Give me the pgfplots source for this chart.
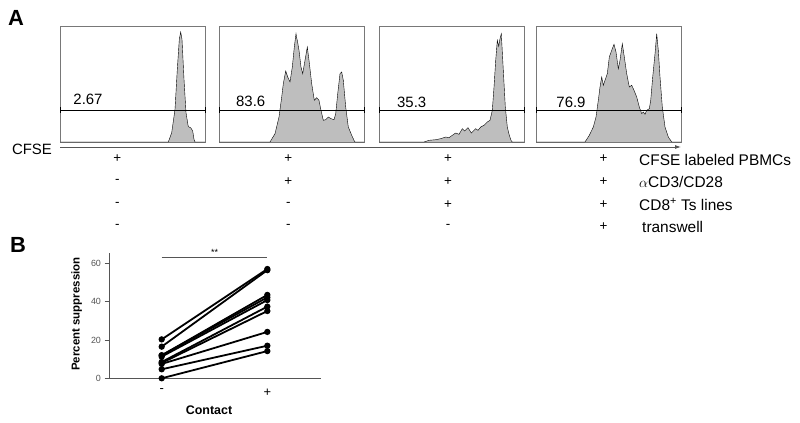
\documentclass[border=0pt]{standalone}
\usepackage{pgfplots}
\pgfplotsset{compat=1.18}
\usetikzlibrary{arrows.meta}
\usepackage{fontspec}
\setmainfont{Liberation Sans}
\definecolor{histfill}{RGB}{190,190,190}
\definecolor{boxgray}{RGB}{120,120,120}
\definecolor{axgray}{RGB}{85,85,85}
\tikzset{pct/.style={font=\fontsize{15}{16}\selectfont}}
\begin{document}
\begin{tikzpicture}[x=1bp,y=1bp]
\useasboundingbox (0,0) rectangle (800,422);
\pgfplotsset{hist/.style={anchor=south west, width=145bp, height=116bp, scale only axis,
  xmin=0, xmax=145, ymin=0, ymax=116, ticks=none,
  axis line style={boxgray, line width=0.7pt}, clip=false},
  gate/.style={black, line width=0.8pt, mark=|, mark size=3bp, mark options={line width=0.6pt}},
  histplot/.style={fill=histfill, draw=black, line width=0.4pt},
  pair/.style={black, line width=1.8bp, mark=*, mark size=2.2bp}}
% Histogram 1
\begin{axis}[hist, at={(60bp,280bp)}]
\addplot[histplot] coordinates {(0,0)(108.3,0)(111.7,9.3)(115,32.7)(117.3,72.7)(119.3,102.7)(120.7,110)(122,102.7)(124,62.7)(126,29.3)(128.3,15.3)(130.7,14.3)(132.7,11)(134,2.7)(135,0)(145,0)};
\addplot[gate] coordinates {(0,31.7)(145,31.7)};
\node[pct] at (axis cs:28,43) {2.67};
\end{axis}
% Histogram 2
\begin{axis}[hist, at={(219bp,280bp)}]
\addplot[histplot] coordinates {(0,0)(51,0)(56,8.3)(60,25)(62.7,45)(64.3,58.3)(66.7,71)(68.7,65)(71,60)(73.3,75)(75.3,95)(77,108.3)(77.7,104)(78.3,101.7)(80,91.7)(82,75)(83.7,68.3)(86,81.7)(88.3,95)(90,81.7)(92.7,58.3)(95.3,41.7)(97.7,44.3)(100,41.7)(102,31.7)(104.3,21.7)(106.7,22.3)(109.3,25)(112,23.3)(115,22.3)(116.7,28.3)(118.7,48.3)(121,68.3)(122.7,70)(124.3,61.7)(126.7,35)(129.3,15)(132.7,6.7)(135.3,1)(136,0)(145,0)};
\addplot[gate] coordinates {(0,31.7)(145,31.7)};
\node[pct] at (axis cs:31.7,41) {83.6};
\end{axis}
% Histogram 3
\begin{axis}[hist, at={(379bp,280bp)}]
\addplot[histplot] coordinates {(0,0)(45,0)(50,1.7)(56.7,2.3)(61.7,3.3)(66.7,5)(70,4.3)(73.3,6.7)(76.7,9)(80,7.7)(83.3,13.3)(85.7,11)(89,14.3)(92.3,9)(95,11.7)(96.7,13.3)(99,11.7)(101.7,15)(105,16.7)(108.3,20)(111,21.7)(113.3,31.7)(115,55)(116.7,81.7)(118.3,101.7)(119.7,95.7)(121,103.3)(122.3,108.3)(124.3,71.7)(126.3,35)(128.3,15)(130.3,6.7)(132.3,1)(133.3,0)(145,0)};
\addplot[gate] coordinates {(0,31.7)(145,31.7)};
\node[pct] at (axis cs:32.7,39.5) {35.3};
\end{axis}
% Histogram 4
\begin{axis}[hist, at={(536bp,280bp)}]
\addplot[histplot] coordinates {(0,0)(49,0)(53.3,6.7)(57.3,15)(60,25)(62.3,41.7)(64,55)(65.7,65)(67.3,56.7)(69,61.7)(71.3,68.3)(73.3,85)(75.7,91.7)(78,97.7)(80,90)(82.3,73.3)(84,81.7)(86.3,98.3)(88.3,85)(90.7,68.3)(93.3,55)(95.7,56.7)(98,51.7)(100.7,45)(103.3,35)(105.7,28.3)(107.3,30)(109,27.7)(110.7,31.7)(113.3,33.3)(114.7,41.7)(116.7,65)(119,88.3)(120.7,108.3)(122.3,91.7)(124,65)(126.3,35)(129,15)(132.3,5)(135.7,0)(145,0)};
\addplot[gate] coordinates {(0,31.7)(145,31.7)};
\node[pct] at (axis cs:35,40) {76.9};
\end{axis}
% CFSE arrow
\draw[axgray, line width=0.8pt, -{Latex[length=6bp,width=4bp]}] (60,275) -- (681,275);
\node[font=\fontsize{15}{16}\selectfont] at (32,273) {CFSE};
% panel letters
\node[font=\fontsize{22}{24}\bfseries] at (16,404) {A};
\node[font=\fontsize{22}{24}\bfseries] at (18,177) {B};
% condition table
\begin{scope}[every node/.style={font=\fontsize{13.5}{14}\selectfont}]
\node at (117.3,263) {+}; \node at (288.3,263) {+}; \node at (448,263) {+}; \node at (603.5,263) {+};
\node at (117.3,240.5) {-}; \node at (288.3,240.5) {+}; \node at (448,240.5) {+}; \node at (603.5,240.5) {+};
\node at (117.3,217.5) {-}; \node at (288.3,217.5) {-}; \node at (448,217.5) {+}; \node at (603.5,217.5) {+};
\node at (117.3,195.5) {-}; \node at (288.3,195.5) {-}; \node at (448,195.5) {-}; \node at (603.5,195.5) {+};
\end{scope}
\begin{scope}[every node/.style={font=\fontsize{15.5}{16}\selectfont, anchor=west, inner sep=0pt}]
\node at (639,262) {CFSE labeled PBMCs};
\node at (639,240) {$\alpha$CD3/CD28};
\node at (639,217.5) {CD8\textsuperscript{+} Ts lines};
\node at (642,195.5) {transwell};
\end{scope}
% Panel B
\begin{axis}[anchor=south west, at={(109.5bp,43.7bp)}, width=211.5bp, height=125bp, scale only axis,
  xmin=-0.494, xmax=1.508, ymin=0, ymax=65.2,
  axis x line*=bottom, axis y line*=left,
  axis line style={axgray, line width=0.8pt, -},
  ytick={0,20,40,60}, xtick={0,1}, xticklabels={-,+},
  x tick style={draw=none}, y tick style={axgray, line width=0.8pt},
  tick align=outside, major tick length=5bp,
  /pgf/number format/assume math mode=true,
  yticklabel style={font=\fontsize{9}{10}\selectfont, text=axgray},
  xticklabel style={font=\fontsize{13}{14}\selectfont, yshift=-2bp},
  clip=false]
\addplot[pair] coordinates {(0,20.3)(1,57)};
\addplot[pair] coordinates {(0,16.5)(1,56.4)};
\addplot[pair] coordinates {(0,12)(1,43.5)};
\addplot[pair] coordinates {(0,12)(1,42.2)};
\addplot[pair] coordinates {(0,11.3)(1,40.8)};
\addplot[pair] coordinates {(0,8.5)(1,37.4)};
\addplot[pair] coordinates {(0,8)(1,35.1)};
\addplot[pair] coordinates {(0,7.5)(1,24.2)};
\addplot[pair] coordinates {(0,4.7)(1,17)};
\addplot[pair] coordinates {(0,0)(1,14.2)};
\addplot[axgray, line width=0.6pt] coordinates {(0,63.1)(1,63.1)};
\node[anchor=south, font=\fontsize{9}{10}\selectfont, inner sep=1pt] at (axis cs:0.5,63.6) {**};
\end{axis}
\node[rotate=90, font=\fontsize{11.5}{12}\bfseries] at (76.7,108) {Percent suppression};
\node[font=\fontsize{12.5}{13}\bfseries] at (209,12) {Contact};
\end{tikzpicture}
\end{document}
